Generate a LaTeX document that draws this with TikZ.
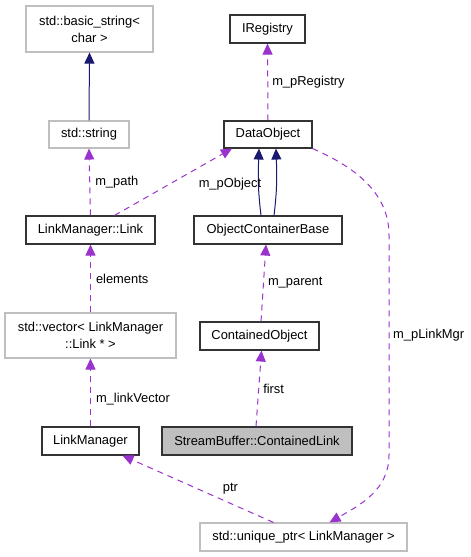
\documentclass[tikz,border=0pt]{standalone}
\usepackage{fontspec}
\setmainfont{Liberation Sans}
\usetikzlibrary{arrows.meta}
\definecolor{edgep}{HTML}{9A32CD}
\definecolor{inh}{HTML}{191970}
\definecolor{grb}{HTML}{BFBFBF}
\begin{document}
\begin{tikzpicture}[x=1pt,y=-1pt,
  box/.style={draw=black!80, line width=1.1pt, inner sep=0pt, align=center,
    font=\fontsize{12.9}{17}\selectfont, fill=white},
  gbox/.style={box, draw=grb},
  lbl/.style={font=\fontsize{12.9}{15}\selectfont, inner sep=0pt, anchor=west},
  dep/.style={draw=edgep, dash pattern=on 6pt off 5pt, line width=1pt,
    -{Triangle[length=11pt,width=10pt,fill=edgep]}},
  inhe/.style={draw=inh, line width=1pt, -{Triangle[length=11pt,width=10pt,fill=inh]}}]
\useasboundingbox (0,0) rectangle (471,557);

\node[gbox, minimum width=127pt, minimum height=46pt] (bs) at (89.5,29) {std::basic\_string<\\char >};
\node[gbox, minimum width=80pt, minimum height=27pt] (str) at (89,134.5) {std::string};
\node[box, minimum width=75pt, minimum height=28pt] (ireg) at (267.5,29) {IRegistry};
\node[box, minimum width=88pt, minimum height=27pt] (dobj) at (268,134.5) {DataObject};
\node[box, minimum width=129pt, minimum height=28pt] (link) at (90.5,230) {LinkManager::Link};
\node[box, minimum width=148pt, minimum height=28pt] (ocb) at (268,230) {ObjectContainerBase};
\node[gbox, minimum width=171pt, minimum height=45pt] (vec) at (90.5,335.5) {std::vector< LinkManager\\::Link * >};
\node[box, minimum width=119pt, minimum height=28pt] (cobj) at (259.5,336) {ContainedObject};
\node[box, minimum width=97pt, minimum height=28pt] (lm) at (90.5,441) {LinkManager};
\node[box, fill=grb, minimum width=190pt, minimum height=28pt] (cl) at (257,441) {StreamBuffer::ContainedLink};
\node[gbox, minimum width=207pt, minimum height=28pt] (uptr) at (303.5,537) {std::unique\_ptr< LinkManager >};

% inheritance
\draw[inhe] (str.north) -- (bs.south);
\draw[inhe] ([xshift=-7pt]ocb.north) .. controls +(-3,-25) and +(-1,30) .. ([xshift=-9pt]dobj.south);
\draw[inhe] ([xshift=6pt]ocb.north) .. controls +(3,-25) and +(1,30) .. ([xshift=8pt]dobj.south);

% usage
\draw[dep] (link.north) -- (str.south) node[lbl, pos=0.5, xshift=5pt] {m\_path};
\draw[dep] ([xshift=24pt]link.north) -- ([xshift=-36pt]dobj.south) node[lbl, pos=0.5, xshift=25pt, yshift=-2pt] {m\_pObject};
\draw[dep] (dobj.north) -- (ireg.south) node[lbl, pos=0.5, xshift=4pt] {m\_pRegistry};
\draw[dep] (vec.north) -- (link.south) node[lbl, pos=0.5, xshift=5pt] {elements};
\draw[dep] ([xshift=1.5pt]cobj.north) -- ([xshift=-2pt]ocb.south) node[lbl, pos=0.5, xshift=4pt] {m\_parent};
\draw[dep] (lm.north) -- (vec.south) node[lbl, pos=0.4, xshift=5pt] {m\_linkVector};
\draw[dep] ([xshift=-1pt]cl.north) -- ([xshift=2pt]cobj.south) node[lbl, pos=0.5, xshift=4pt] {first};
\draw[dep] ([xshift=-30pt]uptr.north) -- ([xshift=32pt]lm.south) node[lbl, anchor=center, pos=0.285, yshift=15pt] {ptr};
\draw[dep] (dobj.south east) .. controls (350,165) and (389,190) .. (389,235)
  -- (389,455) .. controls (389,490) and (360,505) .. ([xshift=26pt]uptr.north);
\node[lbl] (lmgr) at (393,335) {m\_pLinkMgr};
\end{tikzpicture}
\end{document}
